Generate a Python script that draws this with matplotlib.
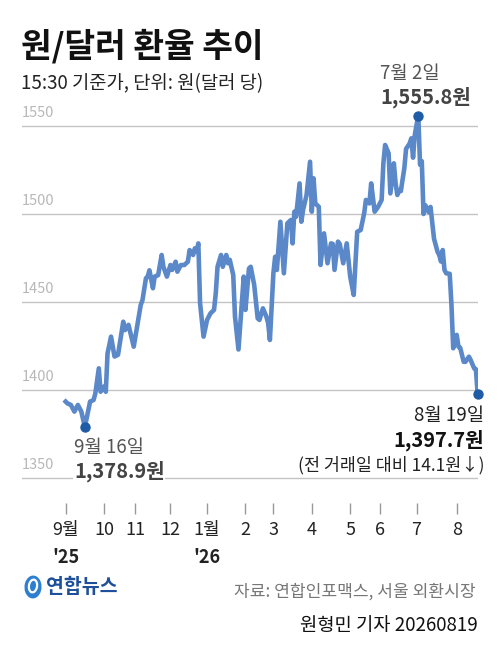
import matplotlib.pyplot as plt
from matplotlib.patches import Ellipse

plt.rcParams['font.family'] = ['Noto Sans CJK KR', 'DejaVu Sans']

# trading-day index since 2025-09-01 and closing rate (won per dollar)
day_idx = [0, 1, 3, 5, 7, 9, 11, 14, 16, 17, 19, 20, 22, 23, 24, 26, 28, 30, 33, 34,
           36, 39, 43, 44, 46, 47, 48, 50, 51, 53, 55, 56, 58, 60, 61, 63, 64, 66, 68, 70,
           71, 73, 74, 75, 76, 77, 79, 81, 83, 85, 86, 87, 89, 90, 92, 93, 94, 96, 97, 99,
           102, 103, 105, 106, 108, 110, 111, 113, 115, 116, 117, 119, 120, 121, 123, 125,
           127, 129, 130, 131, 132, 134, 135, 136, 138, 140, 141, 142, 143, 145, 146, 148,
           150, 152, 153, 154, 156, 157, 159, 161, 163, 165, 166, 167, 169, 171, 172, 174,
           175, 177, 179, 181, 182, 183, 185, 186, 188, 189, 190, 191, 192, 194, 195, 197,
           198, 199, 200, 201, 202, 203, 204, 205, 206, 208, 209, 211, 213, 214, 215, 216,
           217, 218, 220, 221, 222, 224, 225, 226, 228, 229, 231, 232, 234, 235, 236]
rate = [1393.4, 1392.4, 1391.5, 1387.7, 1391.5, 1387.7, 1378.9, 1393.4, 1394.3, 1398.0,
        1412.3, 1399.0, 1402.0, 1399.0, 1420.8, 1430.3, 1419.0, 1420.0, 1438.8, 1434.0,
        1437.0, 1424.6, 1448.3, 1451.0, 1463.5, 1464.4, 1468.0, 1457.8, 1464.4, 1465.3,
        1476.7, 1470.0, 1464.4, 1471.0, 1468.2, 1472.9, 1467.2, 1471.0, 1471.0, 1472.9,
        1479.5, 1476.7, 1480.5, 1478.6, 1483.3, 1449.3, 1430.3, 1439.8, 1443.6, 1445.5,
        1455.0, 1470.0, 1476.7, 1470.0, 1476.7, 1472.0, 1474.0, 1465.3, 1441.7, 1423.0,
        1464.4, 1445.5, 1469.0, 1470.0, 1459.7, 1440.7, 1439.8, 1446.4, 1441.6, 1438.0,
        1428.4, 1466.3, 1475.7, 1468.2, 1495.6, 1466.3, 1494.7, 1496.6, 1483.3, 1501.3,
        1498.5, 1517.4, 1495.6, 1502.3, 1510.8, 1529.7, 1501.3, 1520.3, 1506.0, 1504.1,
        1471.0, 1489.0, 1472.0, 1483.3, 1483.0, 1468.2, 1484.3, 1483.0, 1472.0, 1483.3,
        1464.4, 1454.0, 1472.0, 1489.9, 1490.9, 1500.4, 1508.0, 1506.0, 1517.4, 1501.3,
        1504.1, 1508.0, 1528.8, 1539.2, 1534.5, 1511.7, 1528.8, 1517.4, 1510.8, 1513.6,
        1513.0, 1526.0, 1537.0, 1540.0, 1543.0, 1532.0, 1545.0, 1550.6, 1555.8, 1528.0,
        1530.0, 1500.0, 1505.0, 1501.0, 1504.0, 1486.0, 1478.6, 1476.7, 1473.0, 1479.5,
        1468.2, 1466.3, 1466.0, 1448.3, 1423.7, 1431.3, 1424.6, 1424.0, 1416.0, 1416.0,
        1418.9, 1417.0, 1412.3, 1411.8, 1397.7]

month_idx = [0, 22, 40, 60, 81, 103, 119, 141, 163, 180, 201, 224]
month_labels = ['9월', '10', '11', '12', '1월', '2', '3', '4', '5', '6', '7', '8']
year_idx = [0, 81]
year_labels = ["'25", "'26"]
y_grid = [1350, 1400, 1450, 1500, 1550]
marked_idx = [11, 202, 236]

W, H = 499, 652
LINE = '#5b88c8'
DOT = '#1f5ca6'


def px(x, y):
    return x / W, 1 - y / H


fig = plt.figure(figsize=(W / 100, H / 100), dpi=100)
ax = fig.add_axes([22 / W, (H - 502.6) / H, 456 / W, (502.6 - 108.4) / H])
ax.set_xlim(-25, 236.2)
ax.set_ylim(1336, 1560)

for v in y_grid:
    ax.axhline(v, color='#c4c4c4', lw=1.0, zorder=1)
    ax.annotate(str(v), (0, v), xycoords=('axes fraction', 'data'),
                xytext=(0, 4), textcoords='offset points', fontsize=10.5,
                color='#b8b8b8', ha='left', va='bottom')

ax.plot(day_idx, rate, color=LINE, lw=3.3, solid_joinstyle='round', zorder=3)
marks = [rate[day_idx.index(i)] for i in marked_idx]
ax.scatter(marked_idx, marks, s=42, color=DOT, zorder=4, clip_on=False)

for s in ax.spines.values():
    s.set_visible(False)
ax.set_yticks([])
ax.set_xticks(month_idx)
ax.set_xticklabels(month_labels, fontsize=13, color='#222222')
ax.tick_params(axis='x', length=8, width=1, color='#999999', pad=5.5)
for i, lab in zip(year_idx, year_labels):
    ax.text(i, -0.14, lab, transform=ax.get_xaxis_transform(), ha='center',
            va='center', fontsize=13, fontweight='bold', color='#222222')

# title block
fig.text(*px(21, 46), '원/달러 환율 추이', fontsize=24, fontweight='bold',
         color='#111111', va='center', ha='left')
fig.text(*px(21, 84), '15:30 기준가, 단위: 원(달러 당)', fontsize=13.5,
         color='#222222', va='center', ha='left')

# point labels
bg = dict(facecolor='white', edgecolor='none', pad=0.5)
fig.text(*px(380, 73), '7월 2일', fontsize=13.5, color='#555555', va='center', ha='left')
fig.text(*px(380, 97), '1,555.8원', fontsize=14.5, fontweight='bold', color='#444444',
         va='center', ha='left')
fig.text(*px(74, 447), '9월 16일', fontsize=13.5, color='#555555', va='center', ha='left')
fig.text(*px(74, 471), '1,378.9원', fontsize=14.5, fontweight='bold', color='#444444',
         va='center', ha='left', bbox=bg)
fig.text(*px(484, 416), '8월 19일', fontsize=13.5, color='#222222', va='center', ha='right')
fig.text(*px(484, 440), '1,397.7원', fontsize=14.5, fontweight='bold', color='#111111',
         va='center', ha='right')
fig.text(*px(485, 465), '(전 거래일 대비 14.1원↓)', fontsize=12.5, color='#222222',
         va='center', ha='right', family=['Noto Sans CJK KR', 'DejaVu Sans'], bbox=bg)

# footer
logo = Ellipse(px(33, 587), 17 / W, 23 / H, angle=-20, transform=fig.transFigure,
               facecolor='#2d7fd0', edgecolor='none')
fig.patches.append(logo)
swirl = Ellipse(px(33, 586), 8 / W, 13 / H, angle=-20, transform=fig.transFigure,
                facecolor='none', edgecolor='white', lw=1.6)
fig.patches.append(swirl)
fig.text(*px(46, 587), '연합뉴스', fontsize=14, fontweight='bold', color='#1d4f9a',
         va='center', ha='left')
fig.text(*px(476, 592), '자료: 연합인포맥스, 서울 외환시장', fontsize=12.3,
         color='#777777', va='center', ha='right')
fig.text(*px(478, 625), '원형민 기자 20260819', fontsize=13.5, color='#111111',
         va='center', ha='right')

fig.savefig('out.png', dpi=100, facecolor='white')
